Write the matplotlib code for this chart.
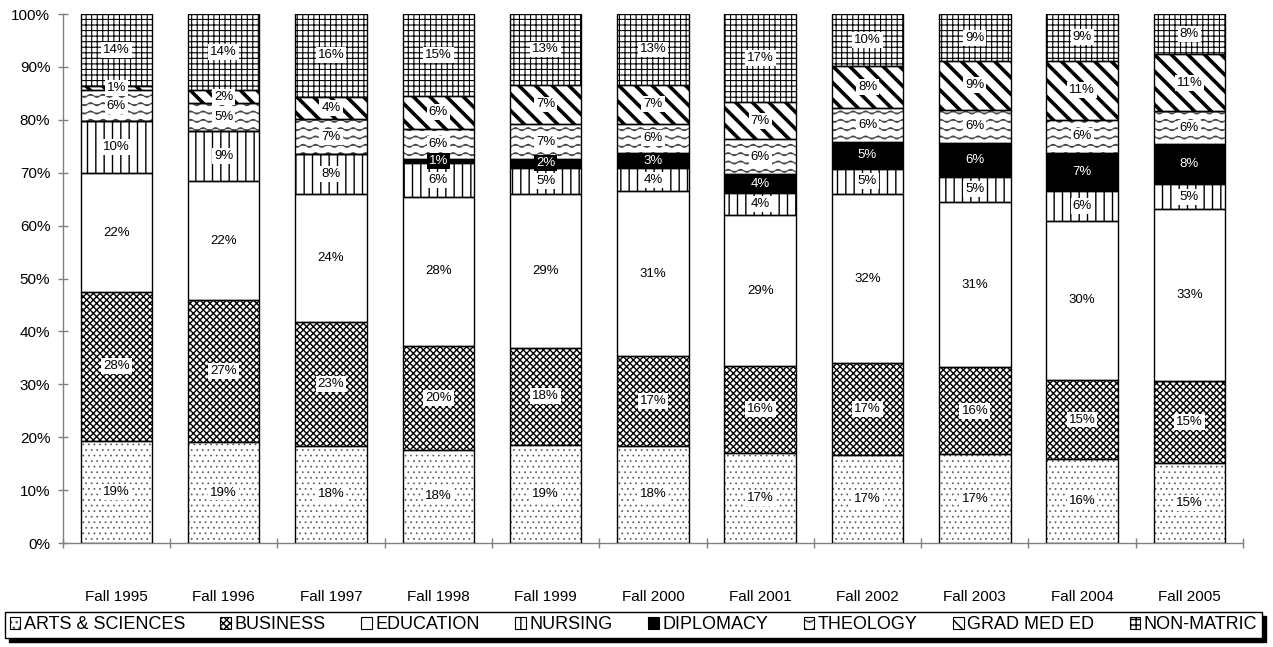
import numpy as np
import matplotlib
matplotlib.use("Agg")
import matplotlib.pyplot as plt
from matplotlib import hatch as mhatch
from matplotlib.path import Path
from matplotlib.patches import Patch
from matplotlib.legend_handler import HandlerTuple
from matplotlib.ticker import FuncFormatter

terms = ["Fall 1995", "Fall 1996", "Fall 1997", "Fall 1998", "Fall 1999", "Fall 2000",
         "Fall 2001", "Fall 2002", "Fall 2003", "Fall 2004", "Fall 2005"]

# share of enrollment, percent (bottom to top)
arts = [19.3, 19.1, 18.4, 17.6, 18.6, 18.4, 17.1, 16.6, 16.8, 15.9, 15.2]
business = [28.2, 26.8, 23.4, 19.7, 18.3, 16.9, 16.3, 17.4, 16.4, 14.9, 15.4]
education = [22.4, 22.5, 24.1, 28.1, 29.1, 31.2, 28.6, 31.9, 31.3, 30.1, 32.6]
nursing = [9.9, 9.4, 7.6, 6.5, 4.9, 4.4, 4.1, 4.9, 4.7, 5.6, 4.6]
diplomacy = [0, 0, 0, 0.7, 1.7, 2.8, 3.7, 5.1, 6.4, 7.3, 7.6]
theology = [5.8, 5.4, 6.6, 5.7, 6.6, 5.6, 6.5, 6.4, 6.3, 6.2, 6.2]
grad_med = [0.8, 2.4, 4.3, 6.3, 7.4, 7.3, 7.1, 7.9, 9.2, 11.2, 10.8]
non_matric = [13.6, 14.4, 15.6, 15.4, 13.4, 13.4, 16.6, 9.8, 8.9, 8.8, 7.6]


# wavy hatch for theology, takes the place of the star hatch ('*')
class WaveHatch(mhatch.HatchPatternBase):
    def __init__(self, hatch, density):
        self.num_lines = int(hatch.count('*') * density)
        self.steps = 64
        self.num_vertices = self.num_lines * (self.steps + 1)

    def set_vertices_and_codes(self, vertices, codes):
        t = np.linspace(0, 1, self.steps + 1)
        for i in range(self.num_lines):
            y0 = (i + 0.5) / self.num_lines
            s = slice(i * (self.steps + 1), (i + 1) * (self.steps + 1))
            vertices[s, 0] = t
            vertices[s, 1] = y0 + 0.18 / self.num_lines * np.sin(2 * np.pi * 8 * t)
            codes[s] = Path.LINETO
            codes[s.start] = Path.MOVETO


mhatch._hatch_types[mhatch._hatch_types.index(mhatch.Stars)] = WaveHatch

plt.rcParams['font.family'] = ['Liberation Sans', 'DejaVu Sans']

# name, values, face, hatch, hatch colour, hatch width, label text colour, label box colour
series = [
    ("ARTS & SCIENCES", arts, "white", "...", "#555555", 0.5, "black", "white"),
    ("BUSINESS", business, "white", "xxxxx", "black", 1.0, "black", "white"),
    ("EDUCATION", education, "white", None, "black", 1.0, "black", "white"),
    ("NURSING", nursing, "white", "||", "black", 1.0, "black", "white"),
    ("DIPLOMACY", diplomacy, "black", None, "black", 1.0, "white", "black"),
    ("THEOLOGY", theology, "white", "**", "#444444", 0.8, "black", "white"),
    ("GRAD MED ED", grad_med, "white", "\\\\", "black", 2.6, "black", "white"),
    ("NON-MATRIC", non_matric, "white", "+++", "black", 0.8, "black", "white"),
]

fig = plt.figure(figsize=(12.73, 6.47), dpi=100)
ax = fig.add_axes([0.0493, 0.1607, 0.9272, 0.8176])

x = np.arange(len(terms))
bottom = np.zeros(len(terms))
width = 0.667
handles = []
names = []
for name, vals, face, hatch, hcolor, hlw, tcolor, bg in series:
    vals = np.array(vals, dtype=float)
    fill = ax.bar(x, vals, width, bottom=bottom, color=face, edgecolor=hcolor,
                  hatch=hatch, linewidth=0, zorder=2)
    if hatch and hasattr(fill[0], "set_hatch_linewidth"):
        for p in fill:
            p.set_hatch_linewidth(hlw)
    outline = ax.bar(x, vals, width, bottom=bottom, fill=False, edgecolor="black",
                     linewidth=1, zorder=3)
    labels = [f"{round(v)}%" if v > 0 else "" for v in vals]
    ax.bar_label(outline, labels=labels, label_type="center", fontsize=9.5, color=tcolor,
                 bbox=dict(boxstyle="square,pad=0.15", fc=bg, ec="none"), zorder=5)
    bottom += vals

    h1 = Patch(facecolor=face, edgecolor=hcolor, hatch=hatch, linewidth=0)
    if hatch and hasattr(h1, "set_hatch_linewidth"):
        h1.set_hatch_linewidth(min(hlw, 1.0))
    h2 = Patch(fill=False, edgecolor="black", linewidth=0.8)
    handles.append((h1, h2))
    names.append(name)

ax.set_xlim(-0.5, len(terms) - 0.5)
ax.set_ylim(0, 100)
ax.set_yticks(np.arange(0, 101, 10))
ax.yaxis.set_major_formatter(FuncFormatter(lambda v, p: f"{v:.0f}%"))
ax.set_xticks(x)
ax.set_xticklabels(terms)
ax.set_xticks(np.arange(-0.5, len(terms)), minor=True)

for side in ["top", "right"]:
    ax.spines[side].set_visible(False)
for side in ["left", "bottom"]:
    ax.spines[side].set_color("#808080")
    ax.spines[side].set_linewidth(1)

ax.tick_params(axis="y", direction="inout", length=7, width=1, color="#808080",
               labelsize=11, pad=5.5)
ax.tick_params(axis="x", which="major", length=0, labelsize=11, pad=34)
ax.tick_params(axis="x", which="minor", direction="inout", length=7, width=1, color="#808080")

fig.legend(handles, names, loc="lower left",
           bbox_to_anchor=(5 / 1273, 9 / 647, 1257 / 1273, 0.04), mode="expand",
           ncol=8, fontsize=13, fancybox=False, edgecolor="black", framealpha=1,
           shadow={"color": "black", "alpha": 1, "ox": 3, "oy": -3},
           handlelength=0.6, handleheight=0.6, handletextpad=0.2, borderpad=0.25,
           borderaxespad=0, handler_map={tuple: HandlerTuple(ndivide=1, pad=0)})

fig.savefig("out.png", dpi=100)
